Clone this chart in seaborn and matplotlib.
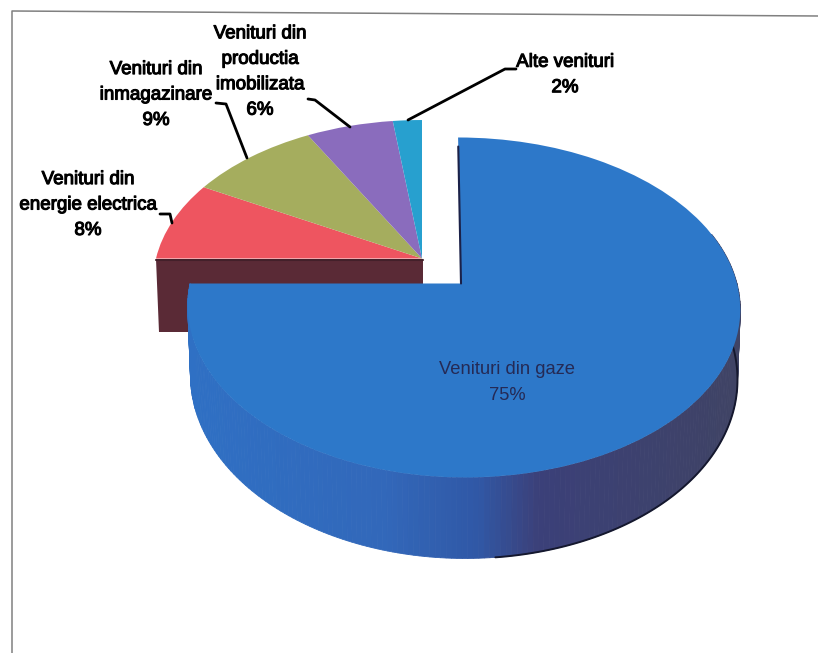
import numpy as np
import matplotlib
matplotlib.use("Agg")
import matplotlib.pyplot as plt
import matplotlib.patheffects as pe
from matplotlib.transforms import Transform
from matplotlib.colors import LinearSegmentedColormap
import seaborn as sns

# ---- data ----
categories = ["Venituri din gaze", "Venituri din energie electrica",
              "Venituri din inmagazinare", "Venituri din productia imobilizata",
              "Alte venituri"]
values = [75, 8, 9, 6, 2]
label_texts = ["Venituri din gaze\n75%", "Venituri din\nenergie electrica\n8%",
               "Venituri din\ninmagazinare\n9%",
               "Venituri din\nproductia\nimobilizata\n6%", "Alte venituri\n2%"]
face_colors = ["#2d78c9", "#ee5560", "#a5ad5e", "#8a6cbd", "#27a0cf"]

# ---- layout (pixels of the 818x653 canvas) ----
W, H = 818, 653
K = 0.141
MAIN = dict(cx=461, cy=283.5, rl=271, rr=276, ry=166.6, skew=0.02)
REST = dict(cx=422, cy=258.5, rl=266, rr=266, ry=158, skew=0.0)
MAIN_DROP, REST_DROP = 68, 73


class Tilt(Transform):
    """Perspective of the tilted pie disc, from unit-circle coordinates to pixels."""
    input_dims = output_dims = 2

    def __init__(self, cx, cy, rl, rr, ry, skew):
        super().__init__()
        self.p = (cx, cy, rl, rr, ry, skew)

    def transform_non_affine(self, xy):
        cx, cy, rl, rr, ry, skew = self.p
        xy = np.asarray(xy, float)
        w = 1 + K * xy[:, 1]
        py = ry * xy[:, 1] / w
        rx = np.where(xy[:, 0] < 0, rl, rr)
        return np.column_stack([cx + rx * xy[:, 0] / w - skew * py, cy - py])


def rim(p, theta_deg, drop=None):
    t = np.radians(theta_deg)
    out = Tilt(**p).transform_non_affine(np.column_stack([np.cos(t), np.sin(t)]))
    if drop is not None:
        out[:, 0] = p["cx"] + (out[:, 0] - p["cx"]) * 0.99
        out[:, 1] += drop + 13 * np.clip(-np.sin(t), 0, 1)
    return out


sns.set_theme(style="white")
plt.rcParams["font.family"] = ["Liberation Sans", "DejaVu Sans"]
fig = plt.figure(figsize=(W / 100, H / 100), dpi=100, facecolor="white")
ax = fig.add_axes([0, 0, 1, 1])

wedges, _ = ax.pie(values, startangle=90, counterclock=False,
                   colors=sns.color_palette(face_colors),
                   wedgeprops=dict(edgecolor="none", linewidth=0))
ax.set_aspect("auto")
ax.set_xlim(0, W)
ax.set_ylim(H, 0)
ax.axis("off")

# frame of the scanned chart
ax.plot([12, 12, W], [H, 11, 16], color="#808080", lw=1.1, zorder=1)

# angles derived from the values
start_rest = 90 - 360 * values[0] / sum(values)   # -180 deg
# cut face of the group of small slices
corner_top = rim(REST, [start_rest])[0]
apex = np.array([REST["cx"], REST["cy"]])
corner_bot = rim(REST, [start_rest], drop=REST_DROP)[0]
ax.fill([corner_top[0], apex[0] + 1, apex[0] + 1, corner_bot[0]],
        [corner_top[1], apex[1], corner_bot[1], corner_bot[1]],
        color="#5a2a36", lw=0, zorder=2)
ax.plot([corner_top[0], apex[0] + 1], [corner_top[1] + 1, apex[1] + 1],
        color="#43202a", lw=1.5, zorder=2.1)

# rim of the main slice, shaded from left to right
side_cmap = LinearSegmentedColormap.from_list(
    "side", [(0, "#2f70c4"), (0.35, "#3268ba"), (0.52, "#3058a6"),
             (0.63, "#3b4079"), (1, "#3f4364")])
thetas = np.linspace(180, 378, 200)
top_edge, bot_edge = rim(MAIN, thetas), rim(MAIN, thetas, drop=MAIN_DROP)
for i in range(len(thetas) - 1):
    xs = [top_edge[i, 0], top_edge[i + 1, 0], bot_edge[i + 1, 0], bot_edge[i, 0]]
    ys = [top_edge[i, 1], top_edge[i + 1, 1], bot_edge[i + 1, 1], bot_edge[i, 1]]
    c = side_cmap((bot_edge[i, 0] - 188) / (740 - 188))
    ax.fill(xs, ys, color=c, lw=0.6, zorder=3)
dark = (bot_edge[:, 0] > 490)
ax.plot(bot_edge[dark, 0], bot_edge[dark, 1], color="#15182e", lw=1.4, zorder=3.1)

# top faces: the pie's own wedges bent to the perspective
wedges[0].set_transform(Tilt(**MAIN) + ax.transData)
wedges[0].set_zorder(4)
for w in wedges[1:]:
    w.set_transform(Tilt(**REST) + ax.transData)
    w.set_zorder(2.5)

# dark inner edge of the gap
edge = Tilt(**MAIN).transform_non_affine(np.array([[0.0, 0.0], [0.0, 0.93]]))
ax.plot(edge[:, 0], edge[:, 1], color="#1b2148", lw=1.5, zorder=4.1)

# leader lines
leaders = [
    ([160, 170, 172], [214, 214, 223]),
    ([216, 226, 247], [103, 104, 158]),
    ([308, 315, 350], [99, 100, 127]),
    ([516, 505, 408], [69, 69, 120]),
]
for xs, ys in leaders:
    ax.plot(xs, ys, color="black", lw=2, zorder=5, solid_capstyle="round")

# labels
positions = [(507, 382.5), (88, 205), (156, 95), (260, 72), (565, 75)]
for i, (txt, (x, y)) in enumerate(zip(label_texts, positions)):
    main = i == 0
    t = ax.text(x, y, txt, ha="center", va="center", fontsize=13.2 if main else 13.5,
                linespacing=1.65, color="#252a55" if main else "black", zorder=6)
    if not main:
        t.set_path_effects([pe.withStroke(linewidth=0.8, foreground="black")])

fig.savefig("out.png", dpi=100, facecolor="white")
